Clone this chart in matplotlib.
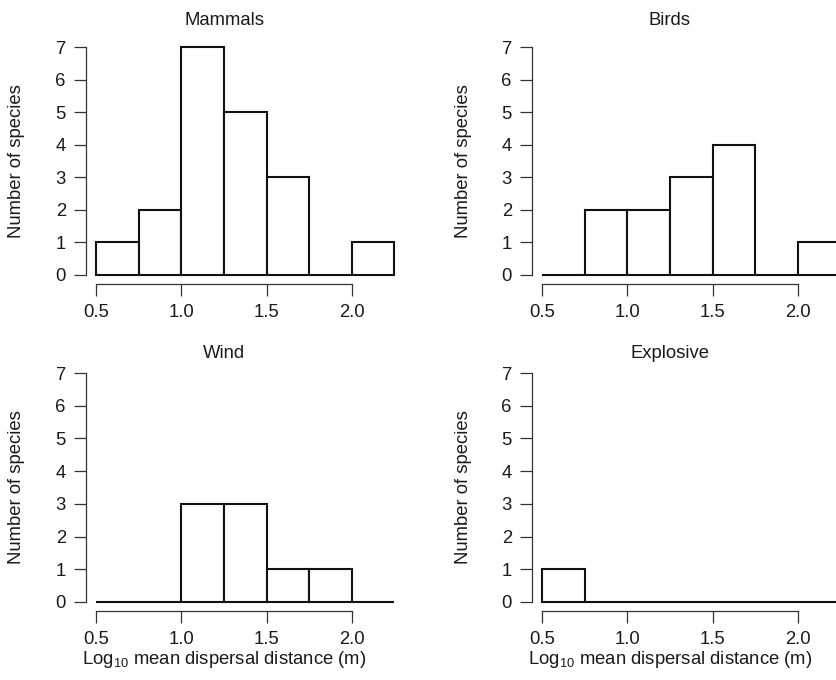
import numpy as np
import matplotlib
matplotlib.use('Agg')
import matplotlib.pyplot as plt

plt.rcParams['font.family'] = ['Liberation Sans', 'DejaVu Sans']
plt.rcParams['mathtext.default'] = 'regular'

# bin edges of the histograms (log10 metres)
bin_left = [0.5, 0.75, 1.0, 1.25, 1.5, 1.75, 2.0]
bin_width = 0.25

titles = ['Mammals', 'Birds', 'Wind', 'Explosive']
mammals = [1, 2, 7, 5, 3, 0, 1]
birds = [0, 2, 2, 3, 4, 0, 1]
wind = [0, 0, 3, 3, 1, 1, 0]
explosive = [1, 0, 0, 0, 0, 0, 0]
counts = [mammals, birds, wind, explosive]

xticks = [0.5, 1.0, 1.5, 2.0]
xticklabels = ['0.5', '1.0', '1.5', '2.0']
yticks = [0, 1, 2, 3, 4, 5, 6, 7]

W, H = 836, 680
fig = plt.figure(figsize=(W / 100, H / 100), dpi=100)

# pixel boxes (left, top, right, bottom) for each panel
boxes = [(86, 38, 362, 284), (532, 38, 808, 284),
         (86, 364, 362, 611), (532, 364, 808, 611)]

txt = '#1a1a1a'
fs = 13.3
for i, (l, t, r, b) in enumerate(boxes):
    ax = fig.add_axes([l / W, 1 - b / H, (r - l) / W, (b - t) / H])
    ax.bar(bin_left, counts[i], width=bin_width, align='edge',
           facecolor='white', edgecolor='#111111', linewidth=1.5, clip_on=False)
    ax.set_xlim(0.44, 2.06)
    ax.set_ylim(-0.28, 7.28)
    for s in ['top', 'right']:
        ax.spines[s].set_visible(False)
    ax.spines['left'].set_bounds(0, 7)
    ax.spines['bottom'].set_bounds(0.5, 2.0)
    for s in ['left', 'bottom']:
        ax.spines[s].set_linewidth(0.9)
        ax.spines[s].set_color('#333333')
    ax.set_xticks(xticks)
    ax.set_xticklabels(xticklabels)
    ax.set_yticks(yticks)
    ax.tick_params(direction='out', length=8.5, width=0.9, color='#333333',
                   labelsize=fs, labelcolor=txt)
    ax.tick_params(axis='x', pad=6)
    ax.tick_params(axis='y', pad=6)
    ax.set_ylabel('Number of species', fontsize=fs, color=txt, va='center')
    ax.yaxis.set_label_coords(-0.25, 0.5)
    pad = 9.5 if i < 2 else 4
    ax.set_title(titles[i], fontsize=fs, color=txt, pad=pad)
    if i >= 2:
        ax.set_xlabel('Log$_{10}$ mean dispersal distance (m)', fontsize=fs,
                      color=txt, va='center')
        ax.xaxis.set_label_coords(0.5, -0.198)

fig.savefig('out.png', dpi=100)
